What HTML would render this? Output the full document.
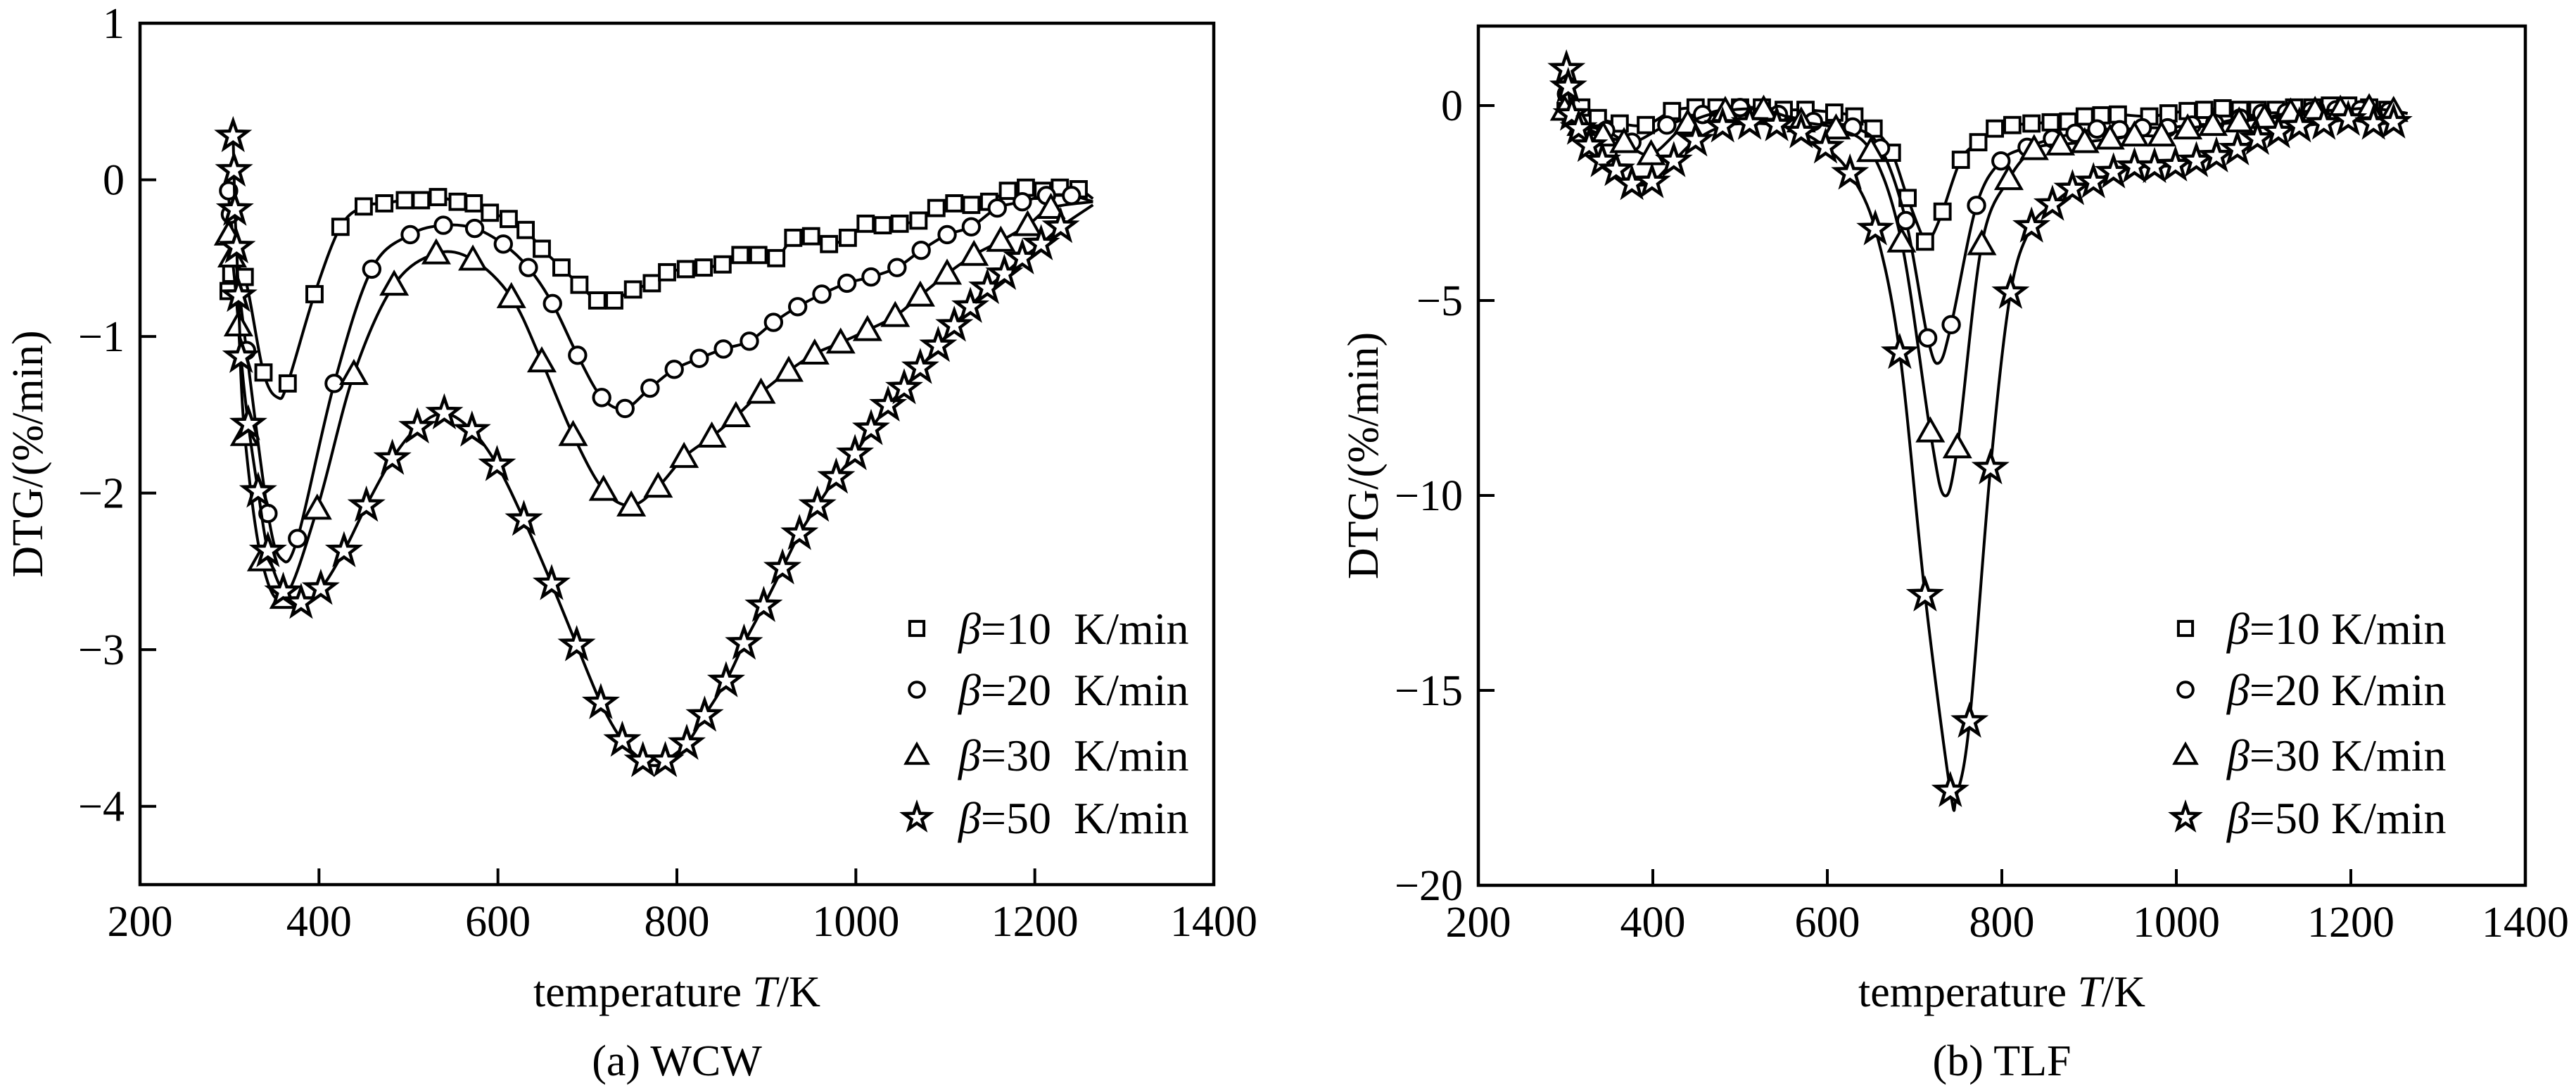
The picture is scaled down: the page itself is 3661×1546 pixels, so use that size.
<!DOCTYPE html>
<html><head><meta charset="utf-8">
<style>
html,body{margin:0;padding:0;background:#fff;}
svg{display:block;}
text{font-family:"Liberation Serif",serif;fill:#000;}
</style></head>
<body>
<svg id="fig" width="3661" height="1546" viewBox="0 0 3661 1546" xmlns="http://www.w3.org/2000/svg"></svg>
<script>
const xTicks = [200,400,600,800,1000,1200,1400];
const yTicksA = [1,0,-1,-2,-3,-4];
const yTicksB = [0,-5,-10,-15,-20];
const seriesNames = ["β=10","β=20","β=30","β=50"];

const aT10 = [299,302,317,338,365,395,424,450,473,496,514,533,555,573,591,612,631,649,671,691,711,730,751,772,789,810,830,851,871,891,911,930,950,970,991,1011,1030,1049,1070,1090,1110,1129,1149,1170,1190,1209,1228,1249,1265];
const aY10 = [-0.71,-0.60,-0.62,-1.23,-1.30,-0.73,-0.30,-0.17,-0.15,-0.13,-0.13,-0.11,-0.14,-0.15,-0.21,-0.25,-0.32,-0.44,-0.56,-0.67,-0.77,-0.77,-0.70,-0.66,-0.59,-0.57,-0.56,-0.54,-0.48,-0.48,-0.50,-0.37,-0.36,-0.41,-0.37,-0.28,-0.29,-0.28,-0.26,-0.18,-0.15,-0.16,-0.14,-0.07,-0.05,-0.07,-0.05,-0.06,-0.12];
const aDipT10 = [354]; const aDipY10 = [-1.39];
const aT20 = [299,301,319,343,376,417,459,502,539,574,606,634,661,689,716,742,770,797,825,852,881,908,935,962,990,1017,1046,1073,1102,1129,1158,1186,1213,1241,1265];
const aY20 = [-0.07,-0.22,-1.09,-2.13,-2.29,-1.30,-0.57,-0.35,-0.29,-0.31,-0.41,-0.56,-0.79,-1.12,-1.39,-1.46,-1.33,-1.21,-1.14,-1.08,-1.03,-0.91,-0.81,-0.73,-0.66,-0.62,-0.56,-0.45,-0.35,-0.30,-0.18,-0.14,-0.10,-0.10,-0.14];
const aDipT20 = [358]; const aDipY20 = [-2.42];
const aT30 = [299,303,310,317,336,361,398,439,484,531,572,615,649,684,718,749,779,808,839,866,894,925,954,983,1013,1044,1072,1102,1132,1162,1192,1218,1265];
const aY30 = [-0.35,-0.49,-0.93,-1.63,-2.43,-2.67,-2.10,-1.24,-0.67,-0.47,-0.51,-0.75,-1.16,-1.63,-1.98,-2.08,-1.96,-1.77,-1.64,-1.51,-1.36,-1.22,-1.11,-1.04,-0.96,-0.87,-0.74,-0.60,-0.48,-0.39,-0.29,-0.18,-0.14];
const aDipT30 = []; const aDipY30 = [];
const aT50 = [304,305,306,308,310,313,321,332,343,360,380,402,428,453,482,510,540,571,599,629,660,688,715,739,762,787,811,831,855,875,897,918,937,957,978,999,1017,1036,1054,1072,1092,1110,1128,1147,1166,1186,1207,1229,1265];
const aY50 = [0.28,0.06,-0.19,-0.43,-0.74,-1.13,-1.56,-1.99,-2.37,-2.63,-2.70,-2.61,-2.37,-2.08,-1.78,-1.58,-1.49,-1.60,-1.82,-2.17,-2.58,-2.97,-3.34,-3.58,-3.71,-3.71,-3.60,-3.42,-3.20,-2.96,-2.72,-2.48,-2.26,-2.08,-1.90,-1.75,-1.59,-1.44,-1.33,-1.20,-1.06,-0.93,-0.81,-0.69,-0.60,-0.50,-0.41,-0.30,-0.16];
const aDipT50 = [775]; const aDipY50 = [-3.74];

const bT10 = [300,306,318,337,362,392,422,449,473,500,525,550,575,608,631,653,674,692,712,732,753,773,792,812,834,856,876,895,914,933,969,991,1013,1032,1053,1073,1093,1114,1135,1156,1176,1197,1221,1242,1265];
const bY10 = [-0.14,-0.32,-0.05,-0.32,-0.46,-0.50,-0.14,-0.05,-0.05,-0.05,-0.05,-0.11,-0.11,-0.18,-0.28,-0.59,-1.21,-2.37,-3.49,-2.72,-1.39,-0.94,-0.59,-0.50,-0.46,-0.43,-0.41,-0.28,-0.25,-0.23,-0.28,-0.20,-0.14,-0.11,-0.07,-0.11,-0.11,-0.11,-0.05,-0.05,0,0,-0.05,-0.11,-0.2];
const bDipT10 = [720]; const bDipY10 = [-3.35];
const bT20 = [301,310,346,376,416,457,500,544,584,629,661,690,715,742,771,799,829,858,884,909,935,961,990,1018,1044,1073,1098,1126,1155,1183,1211,1244,1265];
const bY20 = [0.30,-0.41,-0.64,-0.94,-0.50,-0.23,-0.05,-0.23,-0.41,-0.55,-1.09,-2.95,-5.96,-5.62,-2.56,-1.42,-1.07,-0.85,-0.71,-0.60,-0.62,-0.57,-0.57,-0.50,-0.46,-0.32,-0.20,-0.18,-0.14,-0.11,-0.11,-0.14,-0.2];
const bDipT20 = [728]; const bDipY20 = [-6.6];
const bT30 = [299,318,343,367,398,440,483,527,570,610,650,685,718,749,777,808,837,867,895,924,952,983,1013,1042,1072,1101,1131,1159,1188,1221,1249,1265];
const bY30 = [-0.11,-0.50,-0.77,-0.94,-1.25,-0.46,-0.14,-0.11,-0.41,-0.59,-1.17,-3.49,-8.36,-8.77,-3.56,-1.89,-1.12,-1.00,-0.94,-0.85,-0.77,-0.77,-0.59,-0.50,-0.41,-0.32,-0.18,-0.14,-0.11,-0.07,-0.14,-0.2];
const bDipT30 = [734]; const bDipY30 = [-10.0];
const bT50 = [301,303,307,315,327,342,358,376,399,424,449,480,511,542,570,598,626,655,683,712,741,763,787,810,834,858,881,905,928,952,975,999,1023,1046,1070,1093,1117,1141,1169,1197,1226,1249,1265];
const bY50 = [0.93,0.48,-0.23,-0.59,-1.03,-1.42,-1.65,-2.01,-1.96,-1.42,-0.89,-0.53,-0.46,-0.50,-0.68,-1.07,-1.74,-3.17,-6.34,-12.56,-17.58,-15.8,-9.3,-4.8,-3.1,-2.54,-2.14,-1.96,-1.71,-1.57,-1.57,-1.53,-1.42,-1.30,-1.12,-0.85,-0.68,-0.53,-0.46,-0.36,-0.46,-0.43,-0.3];
const bDipT50 = [748]; const bDipY50 = [-17.7];

const NS = "http://www.w3.org/2000/svg";
const svg = document.getElementById('fig');
function mk(tag, attrs, parent){ const e=document.createElementNS(NS,tag); for(const k in attrs) e.setAttribute(k,attrs[k]); (parent||svg).appendChild(e); return e; }

function catmull(pts){
  let d = "M"+pts[0][0].toFixed(1)+","+pts[0][1].toFixed(1);
  for(let i=0;i<pts.length-1;i++){
    const p0=pts[Math.max(0,i-1)],p1=pts[i],p2=pts[i+1],p3=pts[Math.min(pts.length-1,i+2)];
    const c1=[p1[0]+(p2[0]-p0[0])/6,p1[1]+(p2[1]-p0[1])/6];
    const c2=[p2[0]-(p3[0]-p1[0])/6,p2[1]-(p3[1]-p1[1])/6];
    d+="C"+c1[0].toFixed(1)+","+c1[1].toFixed(1)+" "+c2[0].toFixed(1)+","+c2[1].toFixed(1)+" "+p2[0].toFixed(1)+","+p2[1].toFixed(1);
  }
  return d;
}
function marker(g, type, x, y, s){
  let e;
  if(type===0){ e=mk('rect',{x:x-s*0.42,y:y-s*0.42,width:s*0.84,height:s*0.84,fill:'#fff',stroke:'#000','stroke-width':4},g); }
  else if(type===1){ e=mk('circle',{cx:x,cy:y,r:s*0.45,fill:'#fff',stroke:'#000','stroke-width':4},g); }
  else if(type===2){ e=mk('polygon',{points:`${x},${y-s*0.55} ${x+s*0.55},${y+s*0.42} ${x-s*0.55},${y+s*0.42}`,fill:'#fff',stroke:'#000','stroke-width':4,'stroke-linejoin':'miter'},g); }
  else { let p=[]; for(let k=0;k<10;k++){const r=k%2?s*0.24:s*0.6; const a=-Math.PI/2+k*Math.PI/5; p.push((x+r*Math.cos(a)).toFixed(1)+","+(y+r*Math.sin(a)).toFixed(1));}
    e=mk('polygon',{points:p.join(' '),fill:'#fff',stroke:'#000','stroke-width':4.5},g); }
  return e;
}

function panel(cfg){
  const {L,R,T,B,ymin,ymax,yTicks,series,legX,legTx,legSpace,ylabX,caption,id} = cfg;
  const g = mk('g',{});
  
  
  const sx = v => L + (v-200)/(1400-200)*(R-L);
  const sy = v => T + (ymax-v)/(ymax-ymin)*(B-T);
  const sizes=[26,26,32,36];
  series.forEach((s,i)=>{
    const all = s.T.map((t,j)=>[t,s.Y[j]]).concat(s.DT.map((t,j)=>[t,s.DY[j]])).sort((a,b)=>a[0]-b[0]);
    const cpts = all.map(p=>[sx(p[0]),sy(p[1])]);
    const path = mk('path',{d:catmull(cpts),fill:'none',stroke:'#000','stroke-width':4},g);
    
    
    const mg = mk('g',{},g);
    
    
    const n = s.T.length;
    for(let j=0;j<n-1;j++){ marker(mg,i,sx(s.T[j]),sy(s.Y[j]),sizes[i]); }
  });
  const fr = mk('rect',{x:L,y:T,width:R-L,height:B-T,fill:'none',stroke:'#000','stroke-width':4.5},g);
  
  
  xTicks.forEach(v=>{
    const x=sx(v);
    mk('line',{x1:x,y1:B,x2:x,y2:B-23,stroke:'#000','stroke-width':4},g);
    const t=mk('text',{x:x,y:B+73,'font-size':62,'text-anchor':'middle'},g); t.textContent=v;
    
    
  });
  yTicks.forEach(v=>{
    const y=sy(v);
    mk('line',{x1:L,y1:y,x2:L+23,y2:y,stroke:'#000','stroke-width':4},g);
    const t=mk('text',{x:L-22,y:y+21,'font-size':62,'text-anchor':'end'},g); t.textContent=(v<0?'\u2212'+(-v):v);
    
    
  });
  const xl=mk('text',{x:(L+R)/2,y:1430,'font-size':62,'text-anchor':'middle'},g);
  xl.innerHTML='temperature <tspan font-style="italic">T</tspan>/K';
  
  
  const yl=mk('text',{x:0,y:0,'font-size':62,'text-anchor':'middle',transform:`translate(${ylabX},${(T+B)/2}) rotate(-90)`},g);
  yl.textContent='DTG/(%/min)';
  
  
  const cp=mk('text',{x:(L+R)/2,y:1528,'font-size':62,'text-anchor':'middle'},g);
  cp.textContent=caption;
  
  
  const rows=[893,980,1073,1162];
  seriesNames.forEach((nm,i)=>{
    const lg=mk('g',{},g);
    
    
    marker(lg,i,legX,rows[i],i===3?32:(i===2?28:24));
    const t=mk('text',{x:legTx,y:rows[i]+22,'font-size':64},lg);
    t.innerHTML='<tspan font-style="italic">β</tspan>='+nm.slice(2)+legSpace+'K/min';
  });
}

panel({id:'wcw',L:199,R:1725,T:33,B:1257,ymin:-4.5,ymax:1,yTicks:yTicksA,
  series:[{T:aT10,Y:aY10,DT:aDipT10,DY:aDipY10},{T:aT20,Y:aY20,DT:aDipT20,DY:aDipY20},{T:aT30,Y:aY30,DT:aDipT30,DY:aDipY30},{T:aT50,Y:aY50,DT:aDipT50,DY:aDipY50}],
  legX:1303,legTx:1362,legSpace:'\u00a0\u00a0',ylabX:60,caption:'(a) WCW'});
panel({id:'tlf',L:2101,R:3589,T:37,B:1258,ymin:-20,ymax:2.04,yTicks:yTicksB,
  series:[{T:bT10,Y:bY10,DT:bDipT10,DY:bDipY10},{T:bT20,Y:bY20,DT:bDipT20,DY:bDipY20},{T:bT30,Y:bY30,DT:bDipT30,DY:bDipY30},{T:bT50,Y:bY50,DT:bDipT50,DY:bDipY50}],
  legX:3106,legTx:3165,legSpace:'\u00a0',ylabX:1958,caption:'(b) TLF'});
</script>
</body></html>
